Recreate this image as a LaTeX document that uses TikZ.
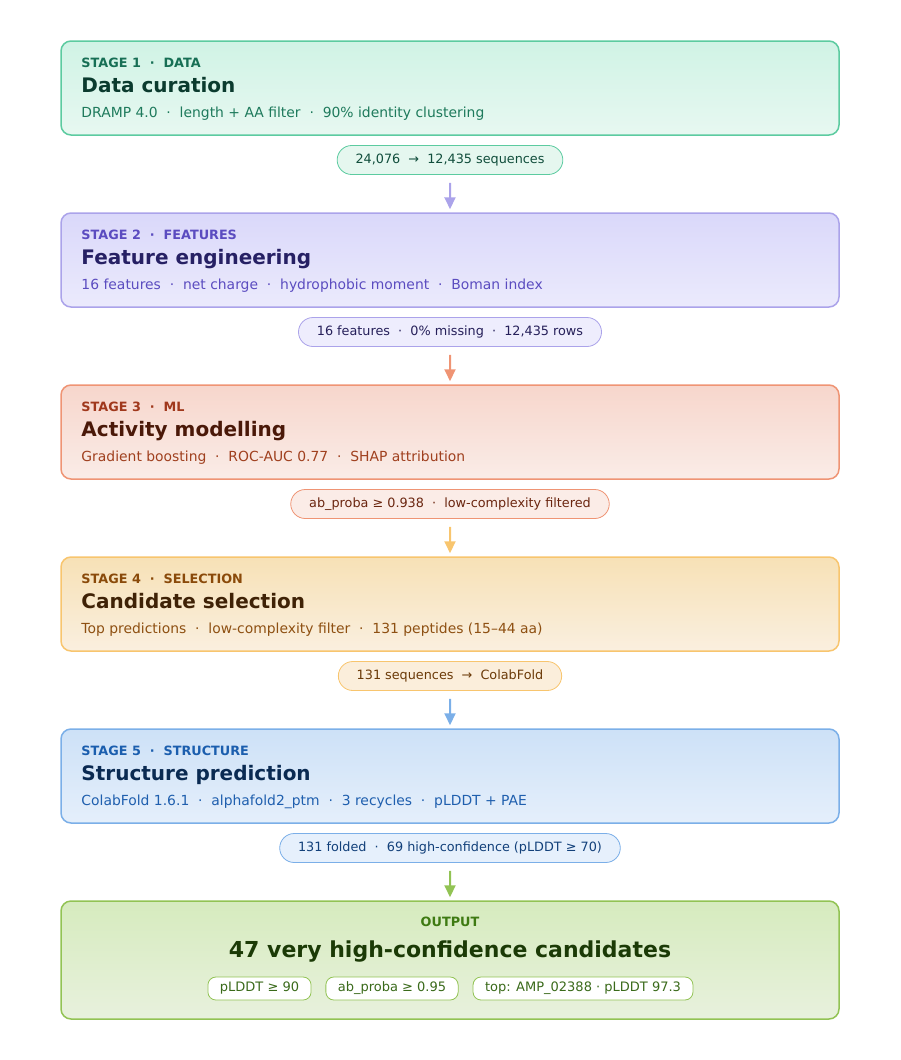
\documentclass[tikz,border=0pt]{standalone}
\usepackage{fontspec}
\setmainfont{DejaVu Sans}
\usepackage{xcolor}
\usepackage{tikz}
\usetikzlibrary{arrows.meta,shapes.misc}

\definecolor{sAline}{HTML}{5CCBA0}
\definecolor{sAtop}{HTML}{D0F3E5}
\definecolor{sAbot}{HTML}{E7F8F1}
\definecolor{sAlab}{HTML}{176F55}
\definecolor{sAtitle}{HTML}{0B3B2E}
\definecolor{sAsub}{HTML}{1E7A5C}
\definecolor{sApill}{HTML}{E5F7EF}
\definecolor{sApilltxt}{HTML}{114E3C}
\definecolor{sBline}{HTML}{ABA3EA}
\definecolor{sBtop}{HTML}{DAD8FA}
\definecolor{sBbot}{HTML}{EBEAFC}
\definecolor{sBlab}{HTML}{5B4CC0}
\definecolor{sBtitle}{HTML}{262064}
\definecolor{sBsub}{HTML}{5B4CC0}
\definecolor{sBpill}{HTML}{EEEDFD}
\definecolor{sBpilltxt}{HTML}{26205A}
\definecolor{sCline}{HTML}{EF9474}
\definecolor{sCtop}{HTML}{F7D6CC}
\definecolor{sCbot}{HTML}{FAECE7}
\definecolor{sClab}{HTML}{A0381C}
\definecolor{sCtitle}{HTML}{4A1808}
\definecolor{sCsub}{HTML}{A0401F}
\definecolor{sCpill}{HTML}{FBECE7}
\definecolor{sCpilltxt}{HTML}{6B2610}
\definecolor{sDline}{HTML}{F8C56E}
\definecolor{sDtop}{HTML}{F7E1B6}
\definecolor{sDbot}{HTML}{FAEFDF}
\definecolor{sDlab}{HTML}{8A4A0A}
\definecolor{sDtitle}{HTML}{3F2206}
\definecolor{sDsub}{HTML}{8E5012}
\definecolor{sDpill}{HTML}{FBEEDB}
\definecolor{sDpilltxt}{HTML}{6B3A08}
\definecolor{sEline}{HTML}{7BAFE8}
\definecolor{sEtop}{HTML}{CDE1F7}
\definecolor{sEbot}{HTML}{E5EFFB}
\definecolor{sElab}{HTML}{1B5EAE}
\definecolor{sEtitle}{HTML}{0A2A52}
\definecolor{sEsub}{HTML}{1F5FAE}
\definecolor{sEpill}{HTML}{E6F0FC}
\definecolor{sEpilltxt}{HTML}{12407A}
\definecolor{outline}{HTML}{92C354}
\definecolor{outtop}{HTML}{D6EBBE}
\definecolor{outbot}{HTML}{E8F1DD}
\definecolor{outlab}{HTML}{3E7A12}
\definecolor{outtitle}{HTML}{1B3A06}
\definecolor{outchiptxt}{HTML}{3A6A1A}

\newcommand{\dotsep}{~~·~~}

\begin{document}
\begin{tikzpicture}[
  x=1pt, y=-1pt,
  stagebox/.style={rectangle, rounded corners=10pt, line width=1.5pt,
    minimum width=778pt, inner sep=0pt},
  lab/.style={anchor=base west, inner sep=0pt,
    font=\fontsize{12.8}{14}\selectfont\bfseries},
  ttl/.style={anchor=base west, inner sep=0pt,
    font=\fontsize{20}{24}\selectfont\bfseries},
  sub/.style={anchor=base west, inner sep=0pt,
    font=\fontsize{13.9}{16}\selectfont},
  pill/.style={rounded rectangle, line width=0.8pt, minimum height=29pt,
    inner xsep=17pt, inner ysep=0pt, font=\fontsize{12.8}{15}\selectfont},
  chip/.style={rectangle, rounded corners=8pt, draw=outline, line width=0.8pt,
    fill=white, text=outchiptxt, minimum height=23pt, inner xsep=12pt,
    inner ysep=0pt, font=\fontsize{13}{15}\selectfont},
  flow/.style={line width=2pt, -{Triangle[width=11pt,length=12pt]},
    shorten <=8pt, shorten >=3pt},
]
\useasboundingbox (0,0) rectangle (900,1060);

% stage 1
\node[stagebox, draw=sAline, top color=sAtop, bottom color=sAbot,
  minimum height=94pt] (stage1) at (450,88) {};
\node[lab, text=sAlab] (lab1) at ([shift={(21,27)}]stage1.north west) {STAGE 1\dotsep DATA};
\node[ttl, text=sAtitle] (title1) at ([shift={(21,52.5)}]stage1.north west) {Data curation};
\node[sub, text=sAsub] (sub1) at ([shift={(21,77)}]stage1.north west)
  {DRAMP 4.0\dotsep length + AA filter\dotsep 90\% identity clustering};
\node[pill, draw=sAline, fill=sApill, text=sApilltxt] (pill1) at (450,160)
  {24,076~~→~~12,435 sequences};

% stage 2
\node[stagebox, draw=sBline, top color=sBtop, bottom color=sBbot,
  minimum height=94pt] (stage2) at (450,260) {};
\node[lab, text=sBlab] (lab2) at ([shift={(21,27)}]stage2.north west) {STAGE 2\dotsep FEATURES};
\node[ttl, text=sBtitle] (title2) at ([shift={(21,52.5)}]stage2.north west) {Feature engineering};
\node[sub, text=sBsub] (sub2) at ([shift={(21,77)}]stage2.north west)
  {16 features\dotsep net charge\dotsep hydrophobic moment\dotsep Boman index};
\node[pill, draw=sBline, fill=sBpill, text=sBpilltxt] (pill2) at (450,332)
  {16 features\dotsep 0\% missing\dotsep 12,435 rows};

% stage 3
\node[stagebox, draw=sCline, top color=sCtop, bottom color=sCbot,
  minimum height=94pt] (stage3) at (450,432) {};
\node[lab, text=sClab] (lab3) at ([shift={(21,27)}]stage3.north west) {STAGE 3\dotsep ML};
\node[ttl, text=sCtitle] (title3) at ([shift={(21,52.5)}]stage3.north west) {Activity modelling};
\node[sub, text=sCsub] (sub3) at ([shift={(21,77)}]stage3.north west)
  {Gradient boosting\dotsep ROC-AUC 0.77\dotsep SHAP attribution};
\node[pill, draw=sCline, fill=sCpill, text=sCpilltxt] (pill3) at (450,504)
  {ab\_proba ≥ 0.938\dotsep low-complexity filtered};

% stage 4
\node[stagebox, draw=sDline, top color=sDtop, bottom color=sDbot,
  minimum height=94pt] (stage4) at (450,604) {};
\node[lab, text=sDlab] (lab4) at ([shift={(21,27)}]stage4.north west) {STAGE 4\dotsep SELECTION};
\node[ttl, text=sDtitle] (title4) at ([shift={(21,52.5)}]stage4.north west) {Candidate selection};
\node[sub, text=sDsub] (sub4) at ([shift={(21,77)}]stage4.north west)
  {Top predictions\dotsep low-complexity filter\dotsep 131 peptides (15–44 aa)};
\node[pill, draw=sDline, fill=sDpill, text=sDpilltxt] (pill4) at (450,676)
  {131 sequences~~→~~ColabFold};

% stage 5
\node[stagebox, draw=sEline, top color=sEtop, bottom color=sEbot,
  minimum height=94pt] (stage5) at (450,776) {};
\node[lab, text=sElab] (lab5) at ([shift={(21,27)}]stage5.north west) {STAGE 5\dotsep STRUCTURE};
\node[ttl, text=sEtitle] (title5) at ([shift={(21,52.5)}]stage5.north west) {Structure prediction};
\node[sub, text=sEsub] (sub5) at ([shift={(21,77)}]stage5.north west)
  {ColabFold 1.6.1\dotsep alphafold2\_ptm\dotsep 3 recycles\dotsep pLDDT + PAE};
\node[pill, draw=sEline, fill=sEpill, text=sEpilltxt] (pill5) at (450,848)
  {131 folded\dotsep 69 high-confidence (pLDDT ≥ 70)};

% output
\node[stagebox, draw=outline, top color=outtop, bottom color=outbot,
  minimum height=118pt] (output) at (450,960) {};
\node[lab, anchor=base, text=outlab] (labout) at ([yshift=-26.5pt]output.north) {OUTPUT};
\node[ttl, anchor=base, text=outtitle, font=\fontsize{22}{26}\selectfont\bfseries] (titleout)
  at ([yshift=-57.5pt]output.north) {47 very high-confidence candidates};
\node[chip] (chip1) at (259.5,988.5) {pLDDT ≥ 90};
\node[chip] (chip2) at (392,988.5) {ab\_proba ≥ 0.95};
\node[chip] (chip3) at (583,988.5) {top: AMP\_02388 · pLDDT 97.3};

% arrows
\draw[flow, sBline] (pill1) -- (stage2);
\draw[flow, sCline] (pill2) -- (stage3);
\draw[flow, sDline] (pill3) -- (stage4);
\draw[flow, sEline] (pill4) -- (stage5);
\draw[flow, outline] (pill5) -- (output);
\end{tikzpicture}
\end{document}
